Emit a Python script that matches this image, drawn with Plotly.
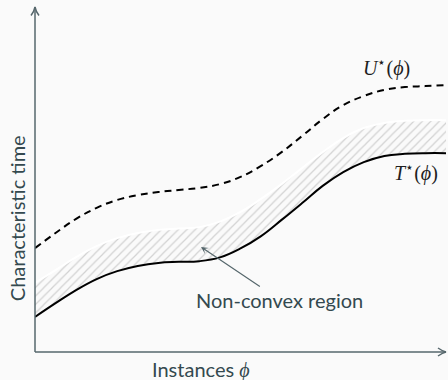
import plotly.graph_objects as go

# Instance parameter phi (arbitrary units)
phi = [0, 0.5, 1, 1.5, 2, 2.5, 3, 3.5, 4, 4.5, 5,
       5.5, 6, 6.5, 7, 7.5, 8, 8.5, 9, 9.5, 10]

# Lower bound T*(phi)
t_star = [1.02, 1.42, 1.80, 2.12, 2.35, 2.50, 2.59, 2.62, 2.64, 2.75, 3.01,
          3.37, 3.84, 4.33, 4.83, 5.23, 5.52, 5.70, 5.76, 5.78, 5.78]

# Upper edge of the non-convex region
region_top = [2.01, 2.38, 2.76, 3.08, 3.31, 3.46, 3.55, 3.59, 3.63, 3.79, 4.07,
              4.45, 4.88, 5.35, 5.81, 6.22, 6.51, 6.66, 6.72, 6.74, 6.74]

# Upper bound U*(phi)
u_star = [3.02, 3.46, 3.87, 4.19, 4.42, 4.56, 4.65, 4.71, 4.77, 4.88, 5.09,
          5.41, 5.81, 6.28, 6.77, 7.18, 7.44, 7.62, 7.70, 7.73, 7.76]

BG = "#fafafa"
INK = "#34494f"
AXIS = "#56676c"
SANS = "Lato"
SERIF = "Liberation Serif"
SMOOTH = 1.2

fig = go.Figure()

# hatched band between T* and the region top
fig.add_trace(go.Scatter(x=phi, y=t_star, mode="lines",
                         line=dict(color="rgba(0,0,0,0)", width=0, shape="spline",
                                   smoothing=SMOOTH),
                         hoverinfo="skip", showlegend=False))
fig.add_trace(go.Scatter(x=phi, y=region_top, mode="lines", fill="tonexty",
                         fillcolor="rgba(0,0,0,0)",
                         fillpattern=dict(shape="/", fgcolor="#a9a9a9", bgcolor=BG,
                                          size=6, solidity=0.2),
                         line=dict(color="white", width=2, shape="spline",
                                   smoothing=SMOOTH),
                         hoverinfo="skip", showlegend=False))

fig.add_trace(go.Scatter(x=phi, y=u_star, mode="lines",
                         line=dict(color="black", width=2, dash="7px,5px", shape="spline",
                                   smoothing=SMOOTH),
                         showlegend=False))
fig.add_trace(go.Scatter(x=phi, y=t_star, mode="lines",
                         line=dict(color="black", width=2, shape="spline",
                                   smoothing=SMOOTH),
                         showlegend=False))

# axes drawn as lines with open arrow heads
axis_line = dict(color=AXIS, width=1.5)
shapes = [
    dict(type="line", xref="paper", yref="paper", x0=0, y0=0, x1=0, y1=1.003, line=axis_line),
    dict(type="line", xref="paper", yref="paper", x0=0, y0=0, x1=1.0, y1=0, line=axis_line),
    dict(type="path", xref="paper", yref="paper",
         path="M -0.0097,0.978 Q -0.002,0.99 0,1.003 Q 0.002,0.99 0.0097,0.978",
         line=axis_line),
    dict(type="path", xref="paper", yref="paper",
         path="M 0.9805,0.0116 Q 0.992,0.002 1.0,0 Q 0.992,-0.002 0.9805,-0.0116",
         line=axis_line),
]

annotations = [
    # curve labels
    dict(x=8.56, y=8.26, xref="x", yref="y", showarrow=False,
         text="<i>U</i><sup>⋆</sup>(<i>ϕ</i>)",
         font=dict(family=SERIF, size=20, color="#1e1e1e")),
    dict(x=9.27, y=5.23, xref="x", yref="y", showarrow=False,
         text="<i>T</i><sup>⋆</sup>(<i>ϕ</i>)",
         font=dict(family=SERIF, size=20, color="#1e1e1e")),
    # region callout
    dict(x=4.04, y=3.05, ax=5.96, ay=1.51, xref="x", yref="y", axref="x", ayref="y",
         showarrow=True, arrowhead=3, arrowsize=1, arrowwidth=1.2,
         arrowcolor=AXIS, text="Non-convex region",
         font=dict(family=SANS, size=20, color=INK)),
    # axis titles
    dict(x=-0.043, y=0.39, xref="paper", yref="paper", showarrow=False,
         xanchor="center", yanchor="middle",
         text="Characteristic time", textangle=-90,
         font=dict(family=SANS, size=20, color=INK)),
    dict(x=0.404, y=-0.05, xref="paper", yref="paper", showarrow=False,
         xanchor="center", yanchor="middle",
         text="Instances <span style=\"font-family:'Liberation Serif'\"><i>ϕ</i></span>",
         font=dict(family=SANS, size=20, color=INK)),
]

fig.update_layout(
    width=448, height=380,
    margin=dict(l=35, r=2, t=8, b=28),
    paper_bgcolor=BG, plot_bgcolor=BG,
    xaxis=dict(range=[0, 10], visible=False, fixedrange=True),
    yaxis=dict(range=[0, 10], visible=False, fixedrange=True),
    shapes=shapes,
    annotations=annotations,
)

fig.write_html("out.html")
